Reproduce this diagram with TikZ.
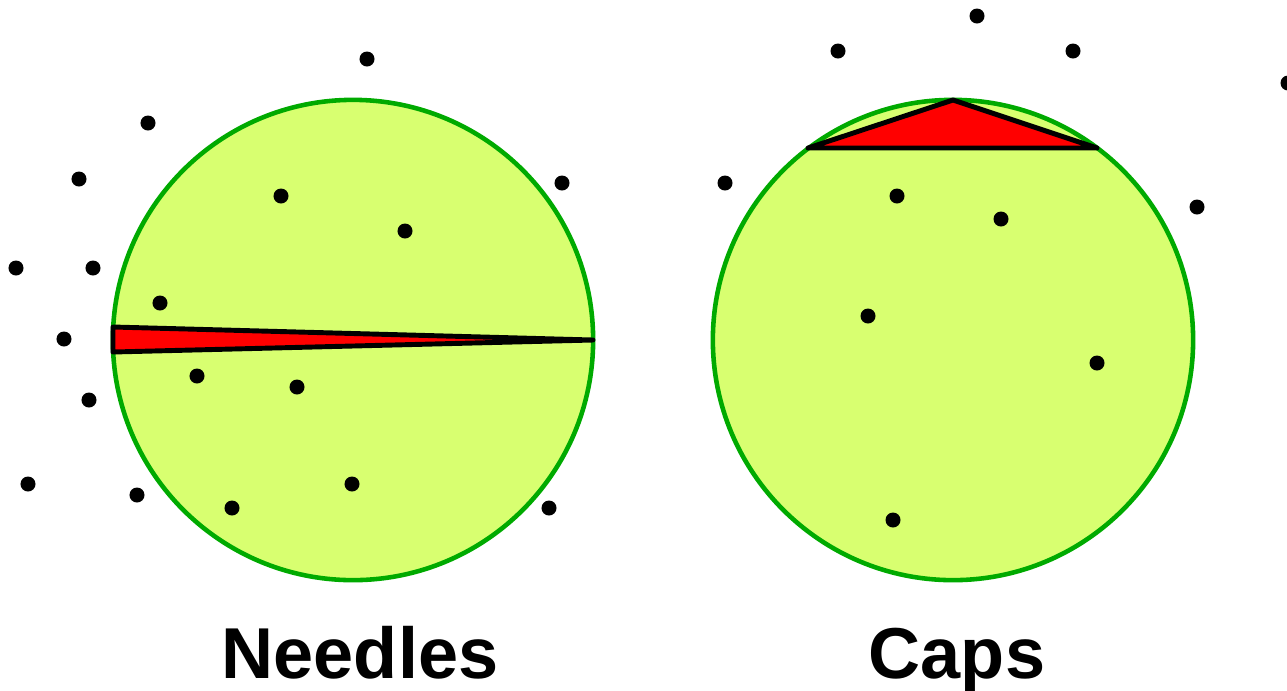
\documentclass[tikz,border=0pt]{standalone}
\usepackage{fontspec}
\setmainfont{Liberation Sans}
\usepackage{tikz}
\definecolor{diskfill}{RGB}{216,255,112}
\definecolor{diskrim}{RGB}{0,170,0}
\begin{document}
\begin{tikzpicture}[
  x=0.01cm, y=-0.01cm,
  disk/.style={circle, draw=diskrim, fill=diskfill, line width=1.3pt,
               minimum size=4.8cm, inner sep=0pt},
  sliver/.style={draw=black, fill=red, line width=1.4pt, line join=round},
  pt/.style={fill=black},
  caption/.style={font=\fontsize{20.5}{24}\selectfont\bfseries, anchor=base}
]
  \useasboundingbox (0,0) rectangle (1287,690);

  \node[disk] (needlesdisk) at (353,340) {};
  \node[disk] (capsdisk) at (953,340) {};

  % needle: thin wedge across the left disk
  \draw[sliver] (113,327) -- (593,340) -- (113,352) -- cycle;
  % cap: triangle under the top chord of the right disk
  \draw[sliver] (808,148) -- (953,100) -- (1097,148) -- cycle;

  \foreach \p in {(367,59),(148,123),(79,179),(562,183),(281,196),(405,231),
                  (16,268),(93,268),(160,303),(64,339),(197,376),(297,387),
                  (89,400),(28,484),(137,495),(352,484),(232,508),(549,508)}
    \fill[pt] \p circle (0.075cm);
  \foreach \p in {(977,16),(838,51),(1073,51),(1288,83),(725,183),(897,196),
                  (1197,207),(1001,219),(868,316),(1097,363),(893,520)}
    \fill[pt] \p circle (0.075cm);

  \node[caption] (needleslabel) at (360,678) {Needles};
  \node[caption] (capslabel) at (957,678) {Caps};
\end{tikzpicture}
\end{document}
